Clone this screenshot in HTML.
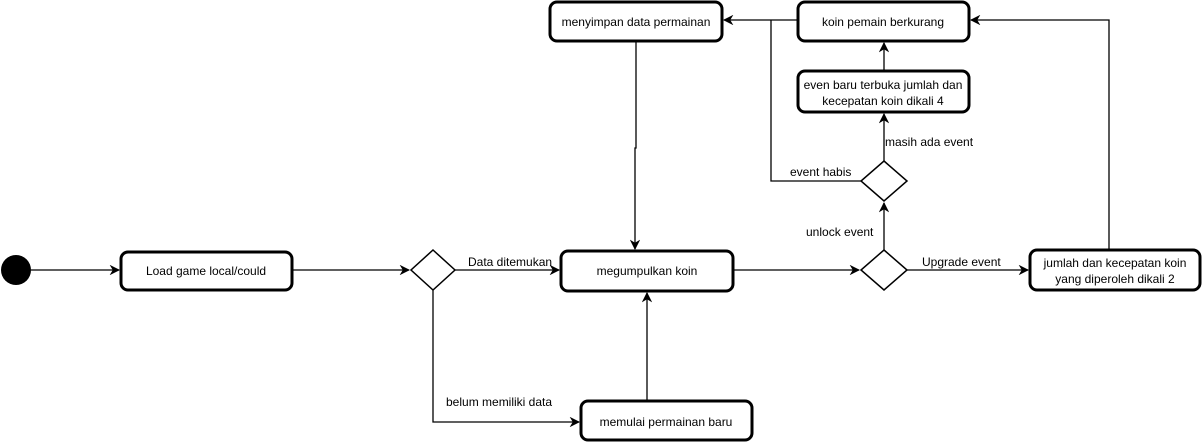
<!DOCTYPE html>
<html><head><style>body{margin:0;background:#fff}svg{display:block}text{font-family:"Liberation Sans",Arial,sans-serif;font-size:12px;fill:#000}</style></head><body>
<svg width="1202" height="442" viewBox="0 0 1202 442" xmlns="http://www.w3.org/2000/svg">
<defs><marker id="a" viewBox="0 0 10 10" refX="9" refY="5" markerWidth="8" markerHeight="8" orient="auto"><path d="M0,0 L10,5 L0,10 L3,5 z" fill="#000"/></marker></defs>
<g fill="none" stroke="#000" stroke-width="1.3">
<path d="M31,270H119" marker-end="url(#a)"/>
<path d="M292,270H409" marker-end="url(#a)"/>
<path d="M455,270H559" marker-end="url(#a)"/>
<path d="M433,290V422H579" marker-end="url(#a)"/>
<path d="M647,401V293" marker-end="url(#a)"/>
<path d="M733,270H859" marker-end="url(#a)"/>
<path d="M907,270H1028" marker-end="url(#a)"/>
<path d="M884,250V203" marker-end="url(#a)"/>
<path d="M884,161V114" marker-end="url(#a)"/>
<path d="M884,71V43" marker-end="url(#a)"/>
<path d="M1109,250V20H971" marker-end="url(#a)"/>
<path d="M798,20H724" marker-end="url(#a)"/>
<path d="M861,181H771V20"/>
<path d="M636,41V148H635V249" marker-end="url(#a)"/>
</g>
<circle cx="16" cy="270" r="15" fill="#000"/>
<g fill="#fff" stroke="#000" stroke-width="3">
<rect x="121" y="252" width="171" height="38" rx="7"/>
<rect x="561" y="251" width="172" height="40" rx="7"/>
<rect x="581" y="401" width="171" height="39" rx="7"/>
<rect x="1030" y="250" width="170" height="40" rx="7"/>
<rect x="550" y="2" width="172" height="39" rx="7"/>
<rect x="798" y="2" width="171" height="39" rx="7"/>
<rect x="798" y="71" width="171" height="41" rx="7"/>
</g>
<g fill="#fff" stroke="#000" stroke-width="1.5">
<path d="M433,250L455,270L433,290L411,270Z"/>
<path d="M884,250L907,270L884,290L861,270Z"/>
<path d="M884,161L907,181L884,201L861,181Z"/>
</g>
<g text-anchor="middle">
<text x="206" y="275">Load game local/could</text>
<text x="647" y="275">megumpulkan koin</text>
<text x="666" y="426">memulai permainan baru</text>
<text x="1115" y="267">jumlah dan kecepatan koin</text>
<text x="1115" y="283">yang diperoleh dikali 2</text>
<text x="636" y="26">menyimpan data permainan</text>
<text x="883" y="26">koin pemain berkurang</text>
<text x="883" y="89">even baru terbuka jumlah dan</text>
<text x="883" y="105">kecepatan koin dikali 4</text>
</g>
<text x="468" y="266">Data ditemukan</text>
<text x="446" y="406">belum memiliki data</text>
<text x="922" y="266">Upgrade event</text>
<text x="806" y="236">unlock event</text>
<text x="885" y="146">masih ada event</text>
<text x="790" y="176">event habis</text>
</svg>
</body></html>
